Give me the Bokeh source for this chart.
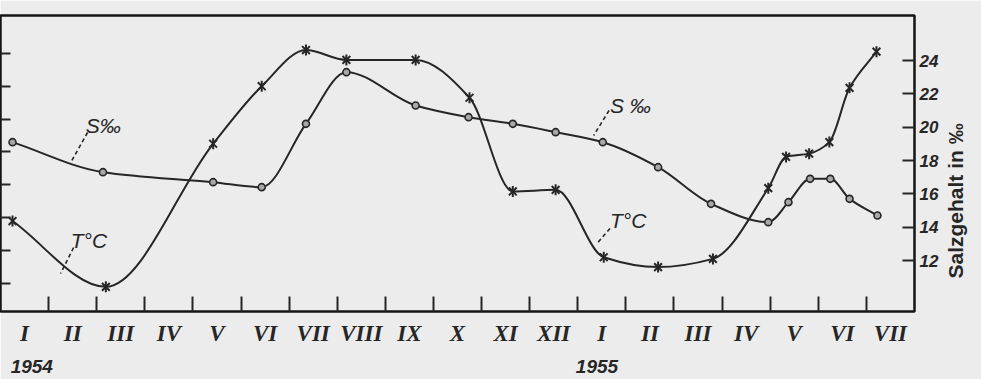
import numpy as np
from bokeh.plotting import figure
from bokeh.models import Range1d, LinearAxis, FixedTicker
from bokeh.core.properties import value
from bokeh.embed import file_html
from bokeh.resources import INLINE

# ---------------- data ----------------
month_labels = ["I", "II", "III", "IV", "V", "VI", "VII", "VIII", "IX", "X", "XI", "XII",
                "I", "II", "III", "IV", "V", "VI", "VII"]
year_labels = ["1954", "1955"]
sal_ticks = [12, 14, 16, 18, 20, 22, 24]
temp_ticks = [0, 2, 4, 6, 8, 10, 12, 14]
sal_title = "Salzgehalt in ‰"

# salinity S per mille (circles); time in months since start of Jan 1954
s_time = [0.25, 2.13, 4.42, 5.43, 6.35, 7.19, 8.63, 9.73, 10.65, 11.54, 12.52,
          13.67, 14.77, 15.96, 16.38, 16.83, 17.25, 17.65, 18.23]
s_value = [19.1, 17.3, 16.7, 16.4, 20.2, 23.3, 21.3, 20.6, 20.2, 19.7, 19.1,
           17.6, 15.4, 14.3, 15.5, 16.9, 16.9, 15.7, 14.7]

# temperature T degC (crosses)
t_time = [0.25, 2.19, 4.42, 5.43, 6.35, 7.19, 8.63, 9.75, 10.65, 11.54, 12.54,
          13.67, 14.81, 15.96, 16.33, 16.81, 17.23, 17.65, 18.21]
t_value = [3.8, -0.2, 8.5, 12.0, 14.2, 13.6, 13.6, 11.3, 5.6, 5.7, 1.6,
           1.0, 1.5, 5.8, 7.7, 7.9, 8.6, 11.9, 14.1]

INK = "#262626"
PAPER = "#ececec"


def smooth_segments(x, y):
    """Cubic Bezier control points (monotone Hermite tangents) between consecutive points."""
    x = np.asarray(x, float)
    y = np.asarray(y, float)
    h = np.diff(x)
    d = np.diff(y) / h
    m = np.zeros_like(y)
    m[0], m[-1] = d[0], d[-1]
    for i in range(1, len(y) - 1):
        if d[i - 1] * d[i] <= 0:
            m[i] = 0.0
        else:
            w1 = 2 * h[i] + h[i - 1]
            w2 = h[i] + 2 * h[i - 1]
            m[i] = (w1 + w2) / (w1 / d[i - 1] + w2 / d[i])
    return dict(x0=x[:-1], y0=y[:-1], x1=x[1:], y1=y[1:],
                cx0=x[:-1] + h / 3, cy0=y[:-1] + m[:-1] * h / 3,
                cx1=x[1:] - h / 3, cy1=y[1:] - m[1:] * h / 3)


p = figure(width=981, height=379, output_backend="svg", toolbar_location=None,
           x_range=Range1d(0, 19), y_range=Range1d(-1.7, 16.3),
           min_border_left=0, min_border_right=64, min_border_top=15, min_border_bottom=68,
           background_fill_color=PAPER, border_fill_color=PAPER)
p.extra_y_ranges = {"sal": Range1d(8.94, 26.7)}
p.grid.visible = False
p.outline_line_color = "#151515"
p.outline_line_width = 2.5

# left axis: temperature ticks without labels
p.yaxis.ticker = FixedTicker(ticks=temp_ticks)
p.yaxis.major_label_overrides = {t: "" for t in temp_ticks}
p.yaxis.major_label_text_font_size = "0px"
p.yaxis.major_label_standoff = 0
p.yaxis.axis_label_standoff = 0
p.yaxis.major_tick_in = 10
p.yaxis.major_tick_out = 0
p.yaxis.major_tick_line_width = 2
p.yaxis.major_tick_line_color = INK
p.yaxis.minor_tick_line_color = None
p.yaxis.axis_line_color = None

# right axis: salinity
ax_r = LinearAxis(y_range_name="sal", ticker=FixedTicker(ticks=sal_ticks))
ax_r.major_tick_in = 12
ax_r.major_tick_out = 0
ax_r.major_tick_line_width = 2
ax_r.major_tick_line_color = INK
ax_r.minor_tick_line_color = None
ax_r.axis_line_color = None
ax_r.major_label_standoff = 5
ax_r.major_label_text_font = "Liberation Sans"
ax_r.major_label_text_font_style = "bold italic"
ax_r.major_label_text_font_size = "17px"
ax_r.major_label_text_color = INK
p.add_layout(ax_r, "right")

# outer right axis carrying only the rotated title, anchored where the text starts
title_anchor = 10.92
ax_t = LinearAxis(y_range_name="sal", ticker=FixedTicker(ticks=[title_anchor]))
ax_t.major_label_overrides = {title_anchor: sal_title}
ax_t.major_label_orientation = np.pi / 2
ax_t.major_tick_in = 0
ax_t.major_tick_out = 0
ax_t.major_tick_line_color = None
ax_t.minor_tick_line_color = None
ax_t.axis_line_color = None
ax_t.major_label_standoff = 14
ax_t.major_label_text_font = "Liberation Sans"
ax_t.major_label_text_font_style = "bold"
ax_t.major_label_text_font_size = "21px"
ax_t.major_label_text_color = INK
p.add_layout(ax_t, "right")

# bottom axis: month names between month boundaries
mid = [i + 0.5 for i in range(len(month_labels))]
p.xaxis.ticker = FixedTicker(ticks=mid, minor_ticks=list(range(1, len(month_labels))))
p.xaxis.major_label_overrides = {m: lab for m, lab in zip(mid, month_labels)}
p.xaxis.major_tick_line_color = None
p.xaxis.major_tick_out = 0
p.xaxis.major_tick_in = 0
p.xaxis.minor_tick_in = 15
p.xaxis.minor_tick_out = 0
p.xaxis.minor_tick_line_width = 2
p.xaxis.minor_tick_line_color = INK
p.xaxis.axis_line_color = None
p.xaxis.major_label_standoff = 9
p.xaxis.major_label_text_font = "Liberation Serif"
p.xaxis.major_label_text_font_style = "bold italic"
p.xaxis.major_label_text_font_size = "23px"
p.xaxis.major_label_text_color = INK

# years
year_pos = [0.65, 12.4]
ax_y = LinearAxis(ticker=FixedTicker(ticks=year_pos))
ax_y.major_label_overrides = {m: lab for m, lab in zip(year_pos, year_labels)}
ax_y.major_tick_line_color = None
ax_y.major_tick_out = 0
ax_y.major_tick_in = 0
ax_y.minor_tick_line_color = None
ax_y.axis_line_color = None
ax_y.major_label_standoff = 11
ax_y.major_label_text_font = "Liberation Sans"
ax_y.major_label_text_font_style = "bold italic"
ax_y.major_label_text_font_size = "19px"
ax_y.major_label_text_color = INK
p.add_layout(ax_y, "below")

# curves
p.bezier(**smooth_segments(s_time, s_value), line_color=INK, line_width=2,
         y_range_name="sal")
p.bezier(**smooth_segments(t_time, t_value), line_color=INK, line_width=2)

# markers
p.scatter(s_time, s_value, marker="circle", size=7, line_color=INK, line_width=1.6,
          fill_color="#a8a8a8", y_range_name="sal")
p.scatter(t_time, t_value, marker="x", size=11, line_color=INK, line_width=2)
p.scatter(t_time, t_value, marker="dash", angle=np.pi / 2, size=11, line_color=INK, line_width=2)

# curve labels with dashed leaders
p.text(x=[1.77, 1.46, 12.67, 12.67], y=[20.1, 13.2, 21.3, 14.4],
       text=["S‰", "T°C", "S ‰", "T°C"], y_range_name="sal",
       text_font=value("Liberation Sans"), text_font_style="italic",
       text_font_size="21px", text_align="left", text_baseline="middle", text_color=INK)
p.segment(x0=[1.81, 1.52, 12.65, 12.67], y0=[19.68, 12.78, 21.0, 13.92],
          x1=[1.46, 1.25, 12.33, 12.4], y1=[17.88, 11.22, 19.5, 13.02],
          y_range_name="sal", line_color=INK, line_width=1.6, line_dash="4 3")

open("out.html", "w").write(file_html(p, INLINE))
